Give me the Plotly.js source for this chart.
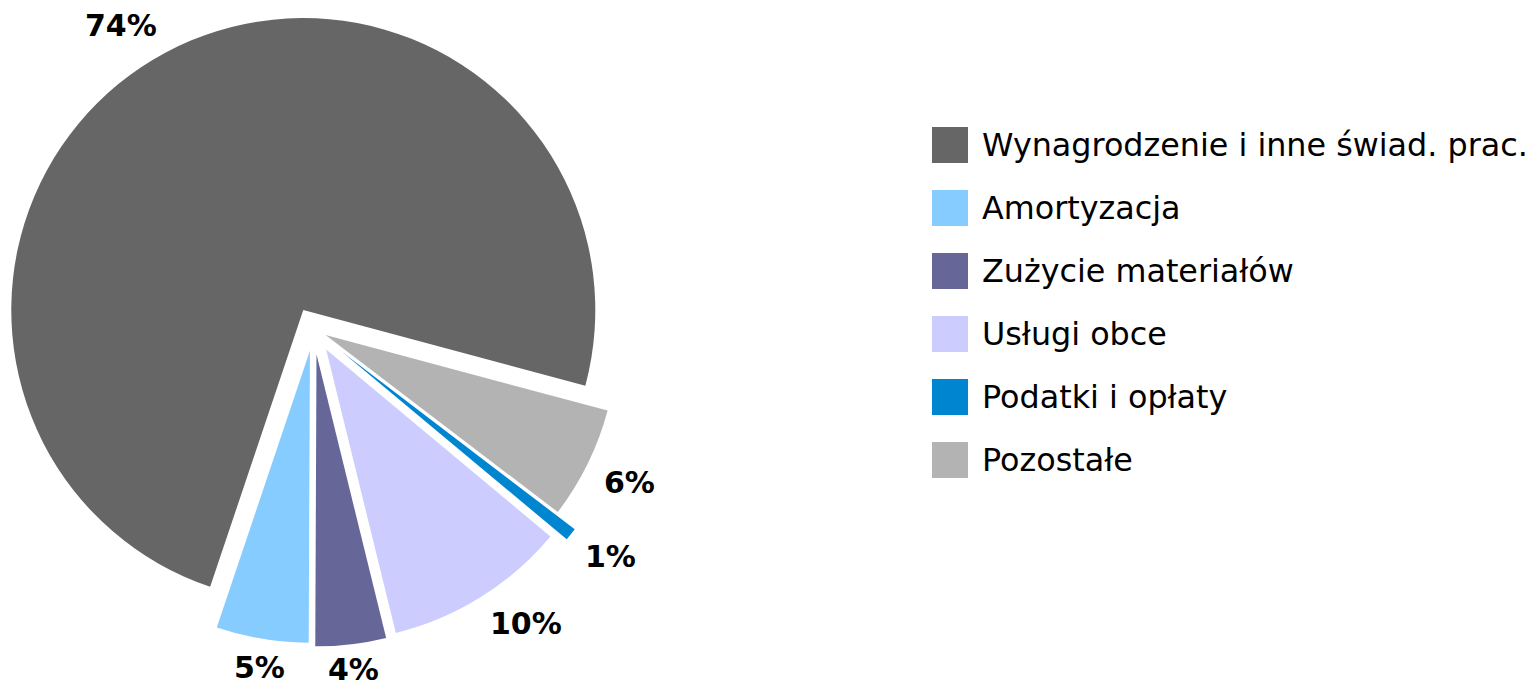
<!DOCTYPE html>
<html>
<head>
<meta charset="utf-8">
<script src="https://cdn.plot.ly/plotly-3.0.1.min.js"></script>
<style>
html,body{margin:0;padding:0;overflow:hidden;background:#ffffff;}
#chart{position:absolute;left:-40px;top:0;width:1577px;height:687px;}
</style>
</head>
<body>
<div id="chart"></div>
<script>
// ---- data ----
const categories = ['Wynagrodzenie i inne świad. prac.', 'Amortyzacja', 'Zużycie materiałów', 'Usługi obce', 'Podatki i opłaty', 'Pozostałe'];
const shares = [74.0, 5.1, 3.9, 10.1, 0.7, 6.2];

// ---- style ----
const colors = ['#666666', '#87CCFF', '#666699', '#CCCCFF', '#0085D0', '#B3B3B3'];
const pulls = [0.074, 0.075, 0.087, 0.082, 0.127, 0.046];
const OFF = 40, FW = 1577, FH = 687;
const DOM_X = [0.01547, 0.43285], DOM_Y = [0.04192, 1];
const START = 105;          // clockwise from 12 o'clock, leading edge of first slice
const GAP = 18, HALF_CAP = 11, LABEL_SIZE = 30;
const FONT = 'DejaVu Sans';

const total = shares.reduce((a, b) => a + b, 0);
const rotation = START - 360 * shares[0] / total;

// geometry replicated from the pie's domain (same rule plotly uses)
const maxPull = Math.max(...pulls);
const boxW = FW * (DOM_X[1] - DOM_X[0]), boxH = FH * (DOM_Y[1] - DOM_Y[0]);
const R = Math.min(boxW, boxH) / 2 / (1 + maxPull);
const CX = FW * (DOM_X[0] + DOM_X[1]) / 2;
const CY = FH * (1 - DOM_Y[0]) - boxH / 2;

const ctx = document.createElement('canvas').getContext('2d');
ctx.font = "bold " + LABEL_SIZE + "px '" + FONT + "'";

let ang = (rotation + 360 * shares[0] / total) * Math.PI / 180;
const annotations = shares.map((v, i) => {
  const a0 = ang;
  ang -= 2 * Math.PI * v / total;
  const mid = (a0 + ang) / 2;
  const dx = Math.sin(mid), dy = -Math.cos(mid);
  const txt = Math.round(v / total * 100) + '%';
  const hw = ctx.measureText(txt).width / 2;
  const sx = Math.abs(dx) < 0.26 ? 0 : Math.sign(dx);
  const sy = Math.abs(dy) < 0.26 ? 0 : Math.sign(dy);
  const px = CX + (pulls[i] * R + R + GAP) * dx + sx * hw;
  let py = CY + (pulls[i] * R + R + GAP) * dy + sy * HALF_CAP;
  // keep the whole text box inside the figure
  const halfBox = LABEL_SIZE * 0.6;
  py = Math.min(Math.max(py, halfBox), FH - halfBox);
  return {
    xref: 'paper', yref: 'paper', x: px / FW, y: 1 - py / FH,
    xanchor: 'center', yanchor: 'middle', showarrow: false, borderpad: 0,
    text: '<b>' + txt + '</b>',
    font: {family: FONT, size: LABEL_SIZE, color: '#000000'}
  };
});

const trace = {
  type: 'pie',
  labels: categories.map(c => '<span style="font-size:31.8px">' + c + '</span>'),
  values: shares,
  sort: false,
  direction: 'counterclockwise',
  rotation: rotation,
  pull: pulls,
  marker: {colors: colors, line: {width: 0}},
  textinfo: 'none',
  hoverinfo: 'none',
  domain: {x: DOM_X, y: DOM_Y}
};

const layout = {
  width: FW, height: FH, autosize: false,
  margin: {l: 0, r: 0, t: 0, b: 0, pad: 0},
  paper_bgcolor: '#ffffff', plot_bgcolor: '#ffffff',
  showlegend: true,
  legend: {
    x: 972 / FW, y: 1 - 102 / FH, xanchor: 'left', yanchor: 'top',
    itemwidth: 40,
    font: {family: FONT, size: 46.15, color: '#000000'},
    bgcolor: 'rgba(0,0,0,0)', borderwidth: 0,
    itemclick: false, itemdoubleclick: false
  },
  annotations: annotations
};

Plotly.newPlot('chart', [trace], layout, {displayModeBar: false, staticPlot: true}).then(() => {
  document.querySelectorAll('#chart .legendpie').forEach(p => {
    p.setAttribute('transform', 'translate(18,6.5) scale(3)');
  });
});
</script>
</body>
</html>
